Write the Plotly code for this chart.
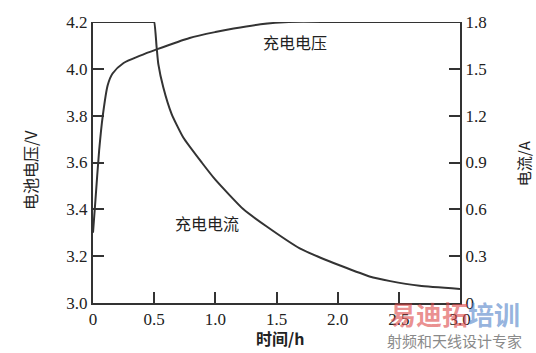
import plotly.graph_objects as go

# Data
time_v = [0, 0.02, 0.05, 0.08, 0.12, 0.16, 0.25, 0.38, 0.52, 0.79, 1.0, 1.15, 1.37, 1.6, 2.0, 3.0]
voltage = [3.30, 3.44, 3.65, 3.80, 3.93, 3.98, 4.025, 4.055, 4.083, 4.132, 4.157, 4.172, 4.19, 4.2, 4.2, 4.2]

time_i = [0, 0.49, 0.5, 0.52, 0.534, 0.575, 0.643, 0.738, 0.889, 1.0, 1.23, 1.42, 1.69, 1.86, 2.02, 2.26, 2.43, 2.67, 3.0]
current = [1.8, 1.8, 1.8, 1.64, 1.53, 1.38, 1.21, 1.06, 0.90, 0.79, 0.60, 0.49, 0.35, 0.29, 0.24, 0.17, 0.14, 0.11, 0.09]

x_ticks = [0, 0.5, 1.0, 1.5, 2.0, 2.5, 3.0]
x_ticktext = ["0", "0.5", "1.0", "1.5", "2.0", "2.5", "3.0"]
v_ticks = [3.0, 3.2, 3.4, 3.6, 3.8, 4.0, 4.2]
v_ticktext = ["3.0", "3.2", "3.4", "3.6", "3.8", "4.0", "4.2"]
i_ticks = [0, 0.3, 0.6, 0.9, 1.2, 1.5, 1.8]
i_ticktext = ["0", "0.3", "0.6", "0.9", "1.2", "1.5", "1.8"]

line_color = "#333333"
serif = "Liberation Serif, DejaVu Serif, serif"
cjk = "Noto Sans CJK SC"

fig = go.Figure()
fig.add_trace(go.Scatter(x=time_v, y=voltage, mode="lines",
                         line=dict(color=line_color, width=2, shape="spline", smoothing=0.7),
                         showlegend=False))
fig.add_trace(go.Scatter(x=time_i, y=current, mode="lines",
                         line=dict(color=line_color, width=2, shape="spline", smoothing=0.5),
                         yaxis="y2", showlegend=False))

axis_common = dict(showgrid=False, zeroline=False, showline=True, linecolor=line_color, linewidth=2,
                   ticks="inside", ticklen=11, tickwidth=2, tickcolor=line_color,
                   tickfont=dict(family=serif, size=17, color="#222"))

def ann(text, x, y, size, color="#222", angle=0, ref="paper"):
    return dict(text=text, x=x, y=y, xref=ref if ref == "paper" else "x",
                yref=ref if ref == "paper" else "y", showarrow=False, textangle=angle,
                xanchor="center", yanchor="middle", font=dict(family=cjk, size=size, color=color))

fig.update_layout(
    width=536, height=353,
    margin=dict(l=93, r=76, t=22, b=50),
    paper_bgcolor="white", plot_bgcolor="white",
    font=dict(family=serif),
    xaxis=dict(range=[0, 3.0], tickvals=x_ticks, ticktext=x_ticktext, **axis_common),
    yaxis=dict(range=[3.0, 4.2], tickvals=v_ticks, ticktext=v_ticktext, **axis_common),
    yaxis2=dict(range=[0, 1.8], tickvals=i_ticks, ticktext=i_ticktext, overlaying="y", side="right",
                **axis_common),
    annotations=[
        ann("<b><span style='color:rgba(220,70,70,0.6)'>易迪拓</span><span style='color:rgba(80,130,200,0.6)'>培训</span></b>",
            0.986, -0.0356, 26),
        ann("射频和天线设计专家", 0.986, -0.135, 15, color="#8a8a8a"),
        ann("充电电压", 1.65, 4.113, 16, ref="data"),
        ann("充电电流", 0.93, 3.342, 16, ref="data"),
        ann("电池电压/V", -0.1717, 0.473, 16, angle=-90),
        ann("电流/A", 1.172, 0.498, 15, angle=-90),
        ann("<b>时间/h</b>", 0.51, -0.1246, 16),
    ],
)

fig.write_html("out.html")
